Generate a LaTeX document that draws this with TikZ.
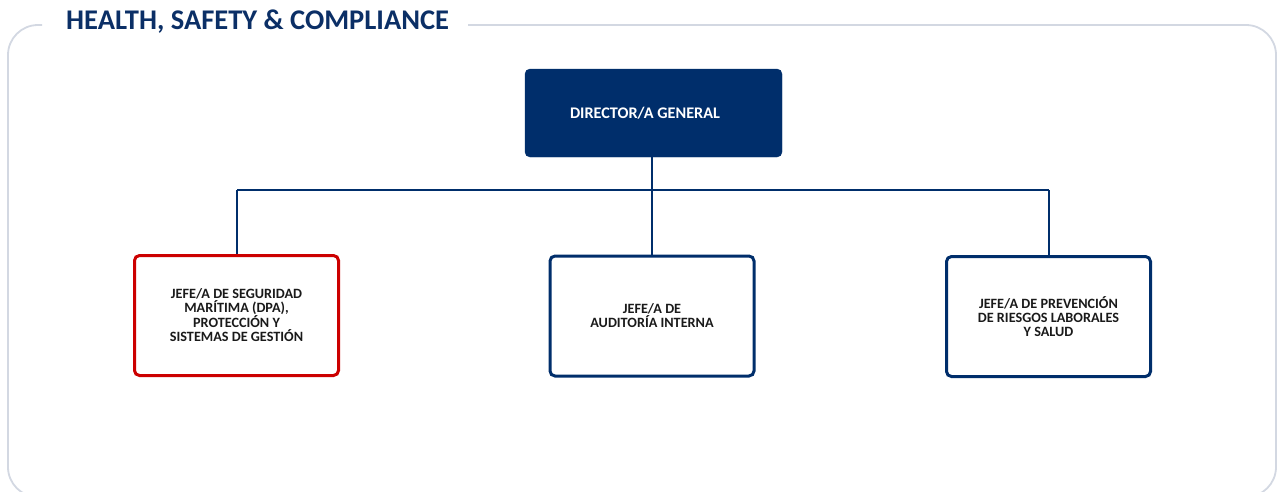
\documentclass[tikz,border=0pt]{standalone}
\usepackage{fontspec}
\setmainfont{Carlito}
\definecolor{navy}{HTML}{002E6B}
\definecolor{titlenavy}{HTML}{0B2F66}
\definecolor{boxred}{HTML}{CC0000}
\definecolor{framegray}{HTML}{D3D8E2}
\definecolor{txt}{HTML}{1A1A1A}
\begin{document}
\begin{tikzpicture}[x=1pt,y=-1pt,
  dirbox/.style={draw=navy,fill=navy,rounded corners=5pt,minimum width=257pt,minimum height=88pt,inner sep=0pt,text=white,font=\bfseries\fontsize{16.2}{18}\selectfont,align=center},
  childbox/.style={draw=#1,line width=3pt,fill=white,rounded corners=5pt,minimum width=204pt,minimum height=120pt,inner sep=0pt,text=txt,font=\bfseries\fontsize{14.2}{14}\selectfont,align=center},
  link/.style={draw=navy,line width=1.8pt}]
\useasboundingbox (0,0) rectangle (1277,491);
\begin{scope}
\clip (0,0) rectangle (1277,491);
\draw[framegray,line width=1.8pt,rounded corners=30pt] (468,25) -- (1276,25) -- (1276,497) -- (8,497) -- (8,25) -- (42,25);
\end{scope}
\node[anchor=west,text=titlenavy,font=\bfseries\fontsize{28.5}{32}\selectfont,inner sep=0pt] (title) at (66,22) {HEALTH, SAFETY \& COMPLIANCE};
\node[dirbox] (dir) at (653.5,113) {DIRECTOR/A GENERAL\hspace*{17pt}};
\node[childbox=boxred] (c1) at (236.5,315.5) {JEFE/A DE SEGURIDAD\\MARÍTIMA (DPA),\\PROTECCIÓN Y\\SISTEMAS DE GESTIÓN};
\node[childbox=navy] (c2) at (652,316) {JEFE/A DE\\AUDITORÍA INTERNA};
\node[childbox=navy] (c3) at (1048.5,316.5) {JEFE/A DE PREVENCIÓN\\DE RIESGOS LABORALES\\Y SALUD};
\coordinate (hl) at (237,190);
\coordinate (hr) at (1049,190);
\draw[link] (dir.south -| c2.north) -- (c2.north);
\draw[link] (hl) -- (hr);
\draw[link] (hl) -- (hl |- c1.north);
\draw[link] (hr) -- (hr |- c3.north);
\end{tikzpicture}
\end{document}
